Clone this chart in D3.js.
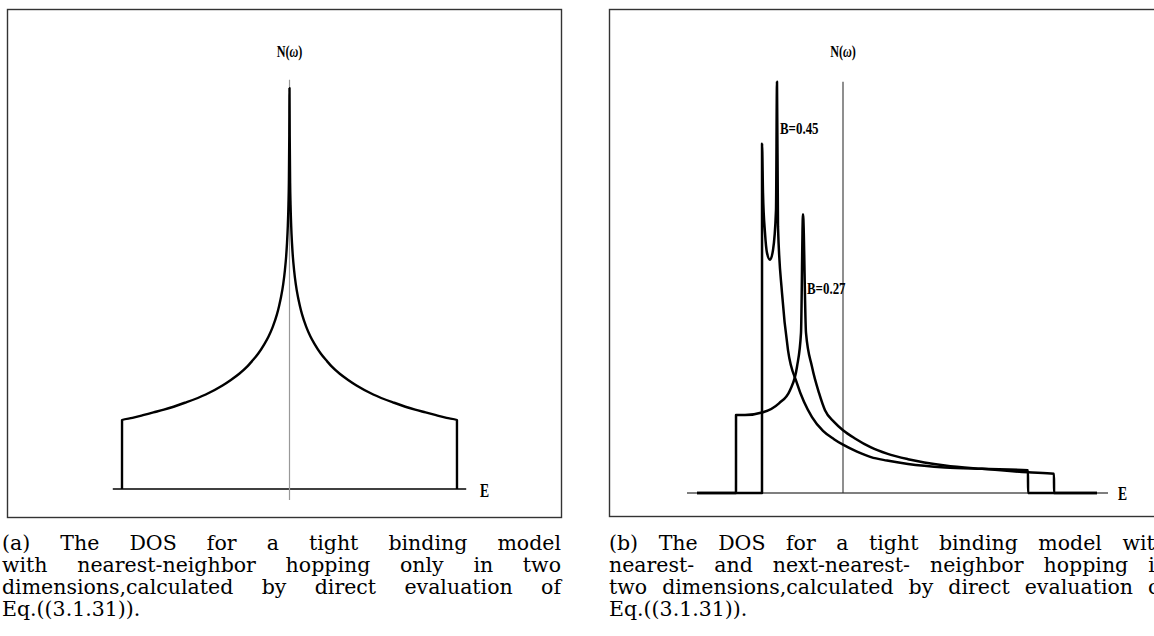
<!DOCTYPE html>
<html>
<head>
<meta charset="utf-8">
<script src="https://cdn.jsdelivr.net/npm/d3@7"></script>
<style>
  body { margin: 0; background: #fff; }
  svg { display: block; overflow: hidden; }
</style>
</head>
<body>
<div id="chart"></div>
<script>
let width = 1154;
let height = 636;

////////////////////////////////
//   Data
////////////////////////////////
// (a) nearest-neighbour DOS
let dosE = [-4, -3.999, -3.75, -3.5, -3.25, -3, -2.5, -2, -1.6, -1.4, -1.2, -1.0, -0.9, -0.75, -0.6, -0.5, -0.4, -0.3, -0.25, -0.2, -0.15, -0.11, -0.08, -0.06, -0.04, -0.025, -0.015, -0.005, 0,
            0.005, 0.015, 0.025, 0.04, 0.06, 0.08, 0.11, 0.15, 0.2, 0.25, 0.3, 0.4, 0.5, 0.6, 0.75, 0.9, 1.0, 1.2, 1.4, 1.6, 2, 2.5, 3, 3.25, 3.5, 3.75, 3.999, 4];
let dosN = [0, 1.0, 1.03, 1.07, 1.11, 1.15, 1.25, 1.37, 1.50, 1.58, 1.67, 1.78, 1.85, 1.96, 2.10, 2.21, 2.35, 2.53, 2.65, 2.79, 2.97, 3.17, 3.37, 3.56, 3.82, 4.12, 4.44, 5.14, 5.81,
            5.14, 4.44, 4.12, 3.82, 3.56, 3.37, 3.17, 2.97, 2.79, 2.65, 2.53, 2.35, 2.21, 2.10, 1.96, 1.85, 1.78, 1.67, 1.58, 1.50, 1.37, 1.25, 1.15, 1.11, 1.07, 1.03, 1.0, 0];

// (b) nearest + next-nearest neighbour DOS
let b27E = [-3.65, -2.675, -2.674, -2.45, -2.0, -1.6, -1.325, -1.15, -1.05, -1.0, -0.925, -0.775, -0.6, -0.45, -0.225, 0, 0.3, 0.7, 1.1, 1.625, 2.55, 3.475, 4.625, 5.275, 5.276, 6.35];
let b27N = [0, 0, 1.13, 1.13, 1.17, 1.30, 1.49, 1.83, 2.32, 4.04, 2.32, 1.83, 1.45, 1.20, 1.03, 0.91, 0.79, 0.66, 0.57, 0.49, 0.40, 0.35, 0.30, 0.28, 0, 0];

let b45E = [-3.65, -2.025, -2.024, -2.0, -1.95, -1.9, -1.825, -1.75, -1.675, -1.65, -1.625, -1.525, -1.375, -1.15, -0.775, -0.5, -0.225, 0, 0.35, 0.7, 1.1, 1.625, 2.55, 3.475, 4.625, 4.626, 6.35];
let b45N = [0, 0, 5.06, 4.35, 3.77, 3.48, 3.38, 3.52, 4.10, 5.96, 3.86, 2.90, 2.07, 1.59, 1.10, 0.90, 0.78, 0.70, 0.60, 0.52, 0.47, 0.42, 0.37, 0.35, 0.33, 0, 0];

let seriesLabels = ["B=0.45", "B=0.27"];

let captionA = ["(a) The DOS for a tight binding model",
                "with nearest-neighbor hopping only in two",
                "dimensions,calculated by direct evaluation of",
                "Eq.((3.1.31))."];
let captionB = ["(b) The DOS for a tight binding model with",
                "nearest- and next-nearest- neighbor hopping in",
                "two dimensions,calculated by direct evaluation of",
                "Eq.((3.1.31))."];

/////////////////////////////
//   Setup
/////////////////////////////
let svg = d3.select("#chart")
  .append("svg")
  .attr("width", width)
  .attr("height", height);

let xA = d3.scaleLinear().domain([-4, 4]).range([122, 457]);
let yA = d3.scaleLinear().domain([0, 1]).range([489, 420]);
let xB = d3.scaleLinear().domain([0, 1]).range([843, 883]);
let yB = d3.scaleLinear().domain([0, 1]).range([493, 424]);

// frames
svg.append("rect").attr("x", 7.5).attr("y", 9.5).attr("width", 554).attr("height", 508)
  .attr("fill", "none").attr("stroke", "#333").attr("stroke-width", 1.4);
svg.append("rect").attr("x", 609.5).attr("y", 9.5).attr("width", 560).attr("height", 507)
  .attr("fill", "none").attr("stroke", "#333").attr("stroke-width", 1.4);

function axisLine(x, y, e0, e1, n0, n1, color, w) {
  svg.append("line")
    .attr("x1", x(e0)).attr("x2", x(e1))
    .attr("y1", y(n0)).attr("y2", y(n1))
    .attr("stroke", color).attr("stroke-width", w);
}

function curve(x, y, es, ns, w) {
  let pts = es.map((e, i) => [e, ns[i]]);
  svg.append("path")
    .datum(pts)
    .attr("fill", "none")
    .attr("stroke", "#000")
    .attr("stroke-width", w)
    .attr("stroke-linejoin", "round")
    .attr("d", d3.line().curve(d3.curveMonotoneX).x(d => x(d[0])).y(d => y(d[1])));
}

function label(px, py, parts, size) {
  let t = svg.append("text")
    .attr("transform", "translate(" + px + "," + py + ") scale(0.76,1)")
    .attr("font-family", "Liberation Serif, Times New Roman, serif")
    .attr("font-weight", "bold")
    .attr("font-size", size + "px");
  parts.forEach(p => {
    t.append("tspan").attr("font-style", p[1] ? "italic" : null).text(p[0]);
  });
  return t;
}

///////////////////////////
//   Panel (a)
///////////////////////////
axisLine(xA, yA, -4.22, 4.22, 0, 0, "#000", 1.4);
axisLine(xA, yA, 0, 0, -0.16, 5.93, "#999", 1.2);
curve(xA, yA, dosE, dosN, 2.4);
label(xA(0), 57, [["N(", false], ["ω", true], [")", false]], 16).attr("text-anchor", "middle");
label(480, 497, [["E", false]], 18);

///////////////////////////
//   Panel (b)
///////////////////////////
axisLine(xB, yB, -3.9, 6.625, 0, 0, "#000", 1.2);
axisLine(xB, yB, 0, 0, 0, 5.96, "#333", 1.1);
curve(xB, yB, b45E, b45N, 2.5);
curve(xB, yB, b27E, b27N, 2.5);
label(xB(0), 57, [["N(", false], ["ω", true], [")", false]], 16).attr("text-anchor", "middle");
label(xB(-1.575), yB(5.2), [[seriesLabels[0], false]], 17);
label(xB(-0.9), yB(2.88), [[seriesLabels[1], false]], 17);
label(1118, 500, [["E", false]], 18);

////////////////////
//   Captions
////////////////////
function caption(lines, x0, x1) {
  let g = svg.append("g")
    .attr("font-family", "DejaVu Serif, serif")
    .attr("font-size", "20.5px")
    .attr("fill", "#000");
  lines.forEach(function(line, li) {
    let y = 550 + li * 22;
    let words = line.split(" ");
    let nodes = words.map(w => g.append("text").attr("y", y).text(w));
    let widths = nodes.map(n => n.node().getComputedTextLength());
    let total = d3.sum(widths);
    let gap = (li < lines.length - 1 && words.length > 1)
      ? (x1 - x0 - total) / (words.length - 1)
      : 6.5;
    let cx = x0;
    nodes.forEach(function(n, i) {
      n.attr("x", cx);
      cx += widths[i] + gap;
    });
  });
}

caption(captionA, 2, 561);
caption(captionB, 609, 1168);
</script>
</body>
</html>
